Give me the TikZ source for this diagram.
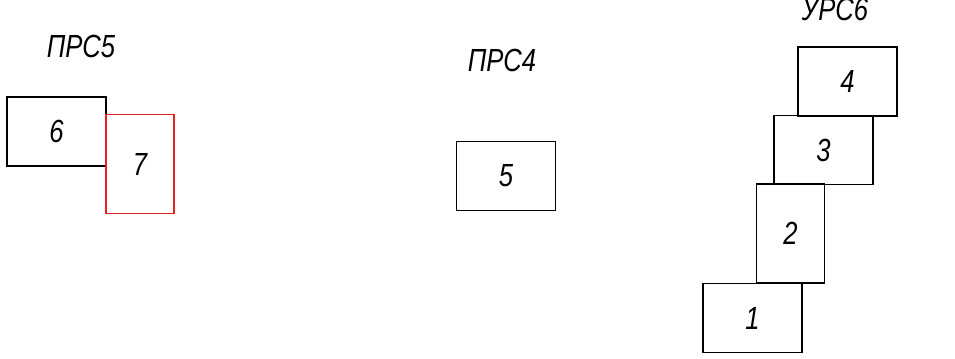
\documentclass[tikz,border=0pt]{standalone}
\usepackage{fontspec}
\usepackage{xcolor}
\usepackage{tikz}
\usetikzlibrary{positioning}
\newfontfamily\gostfont[FakeStretch=0.8]{Liberation Sans}
\definecolor{line}  {HTML}{000000}
\definecolor{marked}{HTML}{E82020}

\begin{document}
\begin{tikzpicture}[x=0.5pt, y=-0.5pt,
  % one plain box per item, sized in pixels of the sheet
  item/.style={draw=line, line width=0.65pt, inner sep=0pt,
               font=\gostfont\itshape\fontsize{16}{16}\selectfont},
  wide/.style={item, minimum width=49.5pt, minimum height=34.5pt},
  tall/.style={item, minimum width=34pt, minimum height=49.5pt},
  % the red box is the odd one out
  hot/.style={tall, draw=marked},
  group/.style={font=\gostfont\itshape\fontsize{16}{16}\selectfont}
]
\useasboundingbox (0,0) rectangle (955,359);

% left group
\node[group] (prs5) at (81, 46)    {ПРС5};
\node[wide]  (b6)   at (56.5, 131.5) {6};
\node[hot]   (b7)   at (140, 164)  {7};

% middle group
\node[group] (prs4) at (502, 60)   {ПРС4};
\node[wide]  (b5)   at (506, 176)  {5};

% right group, stepping down to the left
\node[group] (urs6) at (835, 9)    {УРС6};
\node[wide]  (b4)   at (847.5, 81.5) {4};
\node[wide]  (b3)   at (823.5, 150)  {3};
\node[tall]  (b2)   at (790.5, 233.5) {2};
\node[wide]  (b1)   at (752.5, 318)  {1};

\end{tikzpicture}
\end{document}
